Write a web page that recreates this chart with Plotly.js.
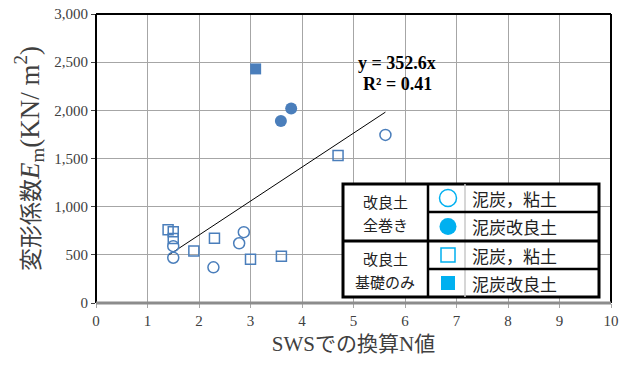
<!DOCTYPE html>
<html>
<head>
<meta charset="utf-8">
<script src="https://cdn.plot.ly/plotly-3.0.1.min.js"></script>
<style>
  html, body { margin: 0; padding: 0; background: #fff; }
  #chart { width: 630px; height: 367px; }
</style>
</head>
<body>
<div id="chart"></div>
<script>
// 改良土全巻き：泥炭，粘土
const wrapClayX = [1.5, 1.5, 2.28, 2.78, 2.87, 5.62];
const wrapClayY = [590, 470, 370, 620, 735, 1745];
// 改良土全巻き：泥炭改良土
const wrapImprovedX = [3.59, 3.79];
const wrapImprovedY = [1890, 2020];
// 改良土基礎のみ：泥炭，粘土
const baseClayX = [1.4, 1.5, 1.5, 1.9, 2.3, 3.0, 3.6, 4.7];
const baseClayY = [760, 740, 670, 540, 672, 455, 485, 1530];
// 改良土基礎のみ：泥炭改良土
const baseImprovedX = [3.1];
const baseImprovedY = [2430];

// 近似直線 y = a·x
const slope = 352.6;
const r2 = 0.41;

const xTicks = [0, 1, 2, 3, 4, 5, 6, 7, 8, 9, 10];
const yTicks = [0, 500, 1000, 1500, 2000, 2500, 3000];
const yTickText = ['0', '500', '1,000', '1,500', '2,000', '2,500', '3,000'];

const groupLabels = [['改良土', '全巻き'], ['改良土', '基礎のみ']];
const seriesLabels = ['泥炭，粘土', '泥炭改良土', '泥炭，粘土', '泥炭改良土'];

// plot area in pixels
const W = 630, H = 367;
const L = 96, R = 611, T = 14, B = 303;
const px = x => (x - L) / (R - L);
const py = y => (B - y) / (B - T);

const markBlue = '#4a7ebb';
const legBlue = '#00b0f0';
const serif = '"Liberation Serif", "Times New Roman", "Noto Sans CJK JP", serif';
const jp = '"Noto Sans CJK JP", "Liberation Serif", sans-serif';

const allX = [...wrapClayX, ...wrapImprovedX, ...baseClayX, ...baseImprovedX];
const xMin = Math.min(...allX), xMax = Math.max(...allX);

const traces = [
  { x: [xMin, xMax], y: [slope * xMin, slope * xMax], mode: 'lines',
    line: { color: '#000', width: 1 }, hoverinfo: 'skip' },
  { x: baseClayX, y: baseClayY, mode: 'markers',
    marker: { symbol: 'square-open', size: 10, color: markBlue, line: { width: 1.5 } } },
  { x: wrapClayX, y: wrapClayY, mode: 'markers',
    marker: { symbol: 'circle-open', size: 11, color: markBlue, line: { width: 1.5 } } },
  { x: wrapImprovedX, y: wrapImprovedY, mode: 'markers',
    marker: { symbol: 'circle', size: 12, color: markBlue } },
  { x: baseImprovedX, y: baseImprovedY, mode: 'markers',
    marker: { symbol: 'square', size: 11, color: markBlue } }
];

// legend table geometry (pixels)
const tbL = 343, tbR = 599, tbT = 184, tbB = 297;
const c1 = 428, c2 = 465;
const rowY = [184, 212, 241, 269, 297];

const shapes = [];
const line = (x0, y0, x1, y1, color, width) => shapes.push({
  type: 'line', xref: 'paper', yref: 'paper',
  x0: px(x0), y0: py(y0), x1: px(x1), y1: py(y1),
  line: { color, width }
});

// plot frame
line(L, T, R, T, '#000', 2);
line(L, T, L, B, '#000', 2);
line(R, T, R, B, '#000', 2);
line(L, B, R, B, '#8c8c8c', 3);

// legend table
shapes.push({ type: 'rect', xref: 'paper', yref: 'paper',
  x0: px(tbL), y0: py(tbT), x1: px(tbR), y1: py(tbB),
  fillcolor: '#fff', line: { color: '#000', width: 3 } });
line(c2, tbT, c2, tbB, '#c8c8c8', 1.5);
line(c1, tbT, c1, tbB, '#000', 2.5);
line(c1, rowY[1], tbR, rowY[1], '#000', 2.5);
line(tbL, rowY[2], tbR, rowY[2], '#000', 3);
line(c1, rowY[3], tbR, rowY[3], '#000', 2.5);

// legend markers
const mx = 448;
const legendMarks = [
  { type: 'circle', filled: false }, { type: 'circle', filled: true },
  { type: 'rect', filled: false }, { type: 'rect', filled: true }
];
legendMarks.forEach((m, i) => {
  const cy = (rowY[i] + rowY[i + 1]) / 2;
  const r = m.type === 'circle' ? 8.5 : 7;
  shapes.push({ type: m.type, xref: 'paper', yref: 'paper',
    x0: px(mx - r), x1: px(mx + r), y0: py(cy + r), y1: py(cy - r),
    fillcolor: m.filled ? legBlue : '#fff',
    line: { color: legBlue, width: m.filled ? 0 : 1.5 } });
});

const annotations = [];
seriesLabels.forEach((t, i) => {
  annotations.push({ text: t, xref: 'paper', yref: 'paper',
    x: px(470), y: py((rowY[i] + rowY[i + 1]) / 2), xanchor: 'left', yanchor: 'middle',
    showarrow: false, font: { family: jp, size: 17, color: '#222' } });
});
groupLabels.forEach((g, i) => {
  const top = rowY[i * 2], bot = rowY[i * 2 + 2];
  const mid = (top + bot) / 2;
  annotations.push({ text: g[0], xref: 'paper', yref: 'paper',
    x: px(385), y: py(mid - 11), xanchor: 'center', yanchor: 'middle',
    showarrow: false, font: { family: jp, size: 15, color: '#222' } });
  annotations.push({ text: g[1], xref: 'paper', yref: 'paper',
    x: px(385), y: py(mid + 12), xanchor: 'center', yanchor: 'middle',
    showarrow: false, font: { family: jp, size: 15, color: '#222' } });
});
annotations.push({ text: '<b>y = ' + slope + 'x</b>', xref: 'paper', yref: 'paper',
  x: px(397), y: py(63), xanchor: 'center', yanchor: 'middle', showarrow: false,
  font: { family: serif, size: 18, color: '#000' } });
annotations.push({ text: '<b>R² = ' + r2 + '</b>', xref: 'paper', yref: 'paper',
  x: px(397), y: py(84), xanchor: 'center', yanchor: 'middle', showarrow: false,
  font: { family: serif, size: 18, color: '#000' } });

const layout = {
  width: W, height: H,
  margin: { l: L, r: W - R, t: T, b: H - B, pad: 0 },
  paper_bgcolor: '#fff', plot_bgcolor: '#fff',
  showlegend: false,
  font: { family: serif, color: '#404040' },
  xaxis: {
    range: [0, 10], tickvals: xTicks, ticktext: xTicks.map(String),
    showgrid: true, gridcolor: '#a6a6a6', gridwidth: 1,
    zeroline: false, showline: false,
    ticks: 'outside', ticklen: 4, tickcolor: '#a6a6a6',
    tickfont: { family: serif, size: 15, color: '#404040' },
    title: { text: 'SWSでの換算N値', standoff: 8,
      font: { family: serif, size: 21, color: '#404040' } }
  },
  yaxis: {
    range: [0, 3000], tickvals: yTicks, ticktext: yTickText,
    showgrid: true, gridcolor: '#a6a6a6', gridwidth: 1,
    zeroline: false, showline: false,
    ticks: 'outside', ticklen: 4, tickcolor: '#404040',
    tickfont: { family: serif, size: 15, color: '#404040' },
    title: { text: '変形係数<span style="font-size:27px"><i>E</i><sub>m</sub>(KN/ m<sup>2</sup>)</span>',
      standoff: 8, font: { family: serif, size: 23, color: '#404040' } }
  },
  shapes, annotations
};

Plotly.newPlot('chart', traces, layout, { displayModeBar: false, staticPlot: true });
</script>
</body>
</html>
